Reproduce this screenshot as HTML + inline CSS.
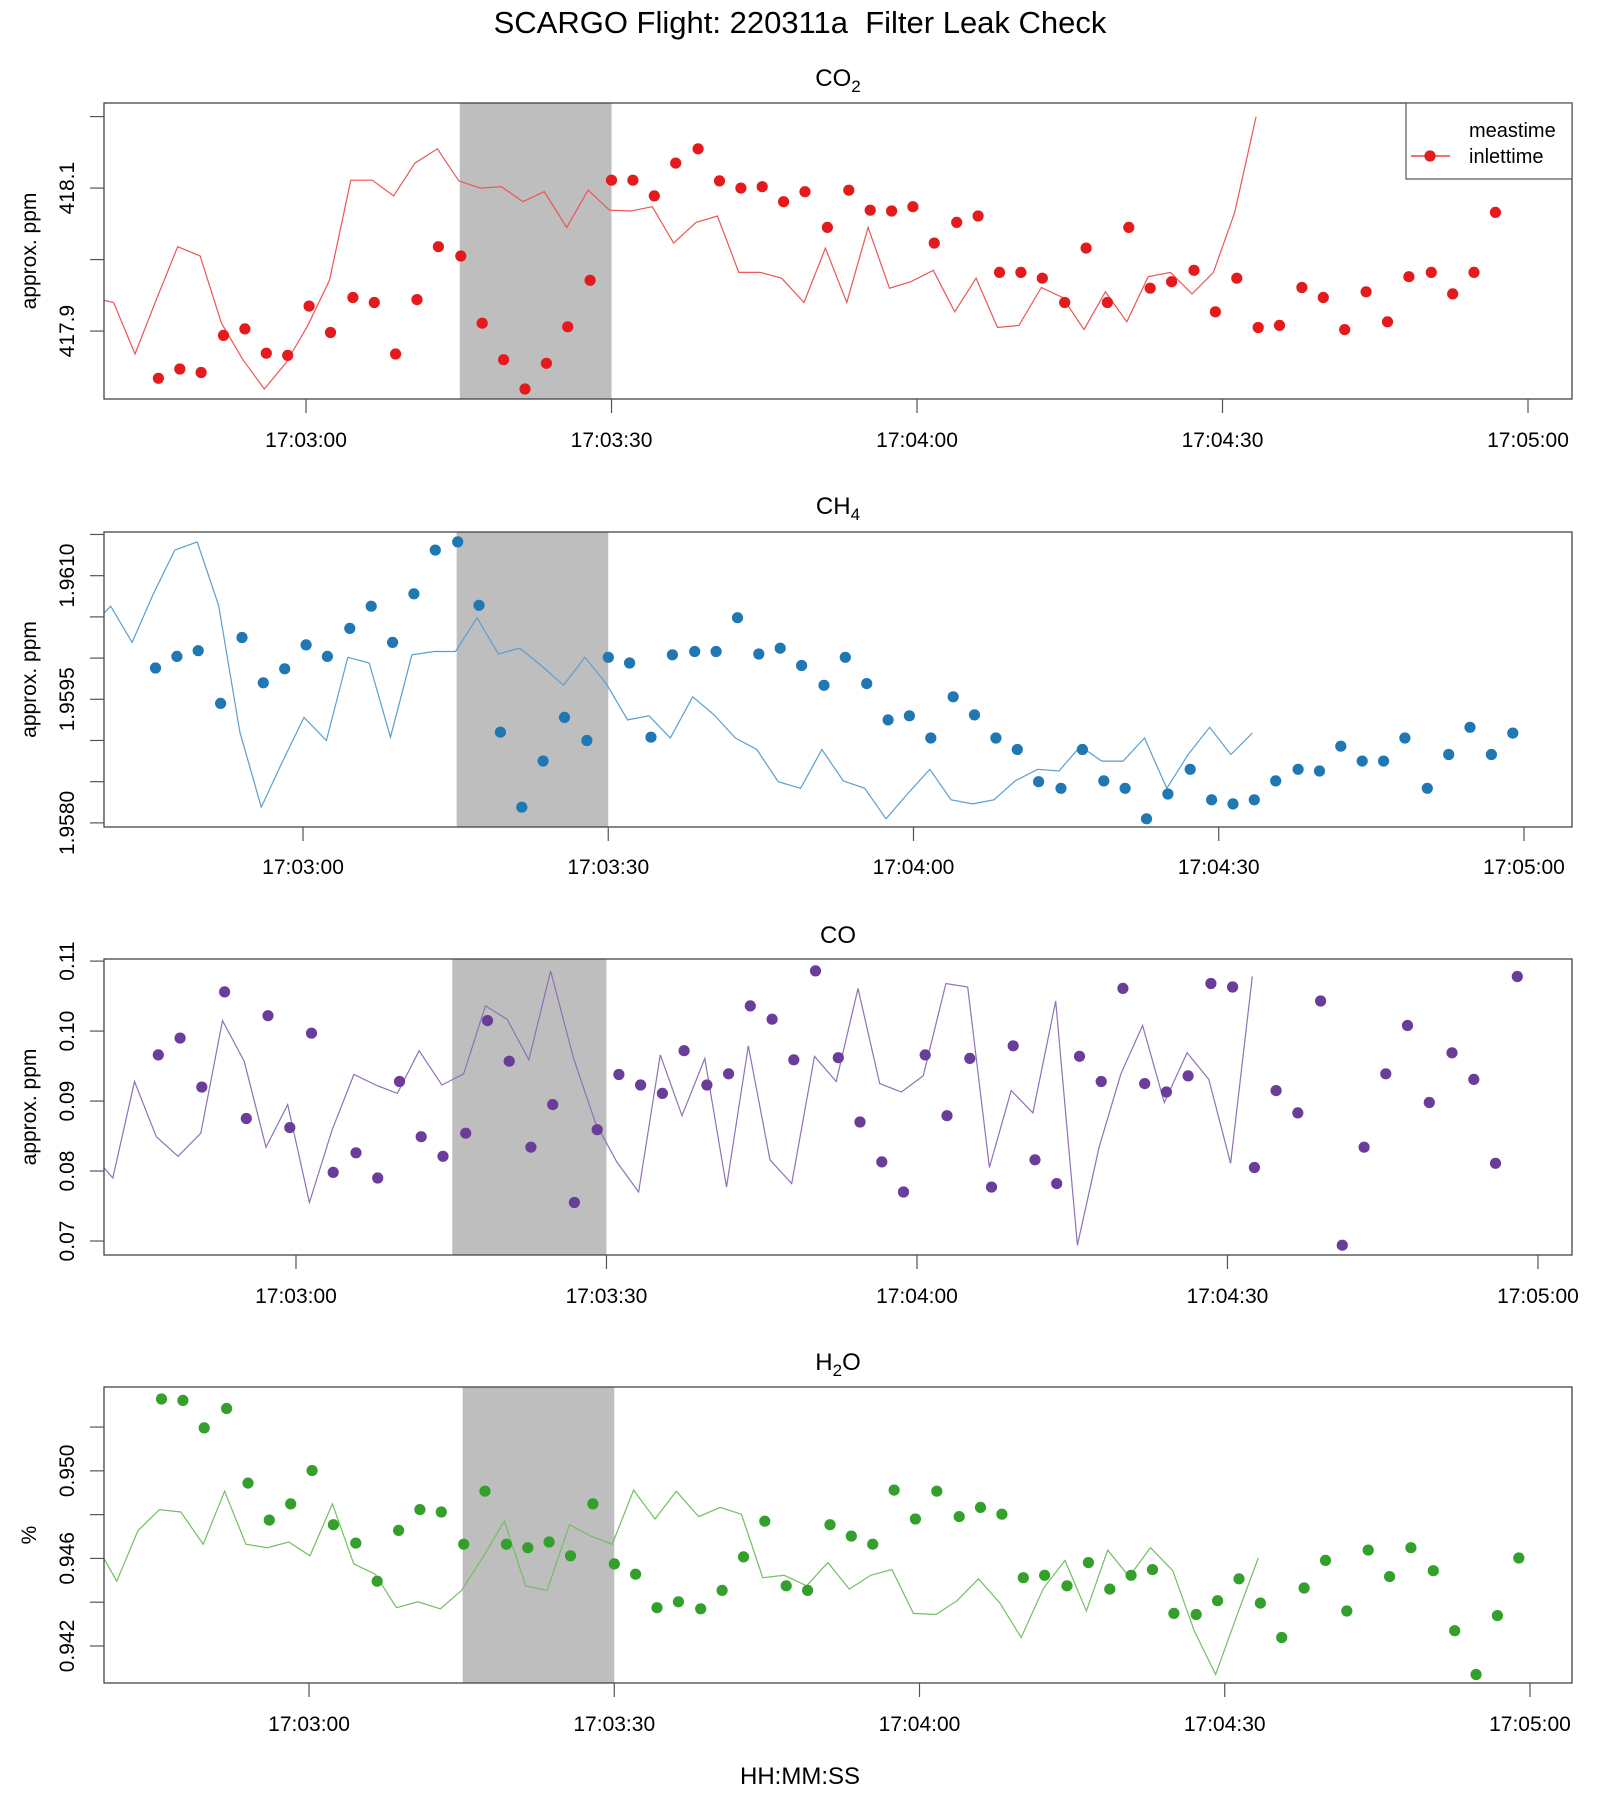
<!DOCTYPE html>
<html><head><meta charset="utf-8"><title>SCARGO Flight 220311a Filter Leak Check</title>
<style>html,body{margin:0;padding:0;background:#fff}svg{display:block;font-family:"Liberation Sans",Arial,sans-serif}</style>
</head><body>
<svg id="chart" width="1600" height="1800" viewBox="0 0 1600 1800" xmlns="http://www.w3.org/2000/svg">
<rect width="1600" height="1800" fill="#fff"/>
<text x="800" y="33" font-size="31" text-anchor="middle" xml:space="preserve">SCARGO Flight: 220311a  Filter Leak Check</text>
<text x="800" y="1784" font-size="24" text-anchor="middle">HH:MM:SS</text>
<g id="panels"></g>
</svg>
<script>
const sampleTimes = [-14.5,-12.4,-10.3,-8.1,-6.0,-3.9,-1.8,0.3,2.4,4.6,6.7,8.8,10.9,13.0,15.2,17.3,19.4,21.5,23.6,25.7,27.9,30.0,32.1,34.2,36.3,38.5,40.6,42.7,44.8,46.9,49.0,51.2,53.3,55.4,57.5,59.6,61.7,63.9,66.0,68.1,70.2,72.3,74.5,76.6,78.7,80.8,82.9,85.0,87.2,89.3,91.4,93.5,95.6,97.8,99.9,102.0,104.1,106.2,108.3,110.5,112.6,114.7,116.8,118.9];
const coTimes = [-13.3,-11.2,-9.1,-6.9,-4.8,-2.7,-0.6,1.5,3.6,5.8,7.9,10.0,12.1,14.2,16.4,18.5,20.6,22.7,24.8,26.9,29.1,31.2,33.3,35.4,37.5,39.7,41.8,43.9,46.0,48.1,50.2,52.4,54.5,56.6,58.7,60.8,62.9,65.1,67.2,69.3,71.4,73.5,75.7,77.8,79.9,82.0,84.1,86.2,88.4,90.5,92.6,94.7,96.8,99.0,101.1,103.2,105.3,107.4,109.5,111.7,113.8,115.9,118.0];
const inletLag = 25.6;
const shadeRange = [15.1, 30.0];
const xTickTimes = [0, 30, 60, 90, 120];
const xTickLabels = ["17:03:00","17:03:30","17:04:00","17:04:30","17:05:00"];

const co2Values = [417.834,417.847,417.842,417.894,417.903,417.869,417.866,417.935,417.898,417.947,417.940,417.868,417.944,418.018,418.005,417.911,417.860,417.819,417.855,417.906,417.971,418.111,418.111,418.089,418.135,418.155,418.110,418.100,418.102,418.081,418.095,418.045,418.097,418.069,418.068,418.074,418.023,418.052,418.061,417.982,417.982,417.974,417.940,418.016,417.940,418.045,417.960,417.969,417.985,417.927,417.974,417.905,417.908,417.961,417.947,417.902,417.955,417.913,417.976,417.982,417.952,417.982,418.066,418.200];
const co2DotCount = 63;
const co2YTicks = [417.9, 418.0, 418.1, 418.2];
const co2YLabels = ["417.9", "", "418.1", ""];

const ch4Values = [1.95988,1.96002,1.96009,1.95945,1.96025,1.95970,1.95987,1.96016,1.96002,1.96036,1.96063,1.96019,1.96078,1.96131,1.96141,1.96064,1.95910,1.95819,1.95875,1.95928,1.95900,1.96001,1.95994,1.95904,1.96004,1.96008,1.96008,1.96049,1.96005,1.96012,1.95991,1.95967,1.96001,1.95969,1.95925,1.95930,1.95903,1.95953,1.95931,1.95903,1.95889,1.95850,1.95842,1.95889,1.95851,1.95842,1.95805,1.95835,1.95865,1.95828,1.95823,1.95828,1.95851,1.95865,1.95863,1.95893,1.95875,1.95875,1.95903,1.95842,1.95883,1.95916,1.95883,1.95909];
const ch4YTicks = [1.9580,1.9585,1.9590,1.9595,1.9600,1.9605,1.9610,1.9615];
const ch4YLabels = ["1.9580","","","1.9595","","","1.9610",""];

const coValues = [0.0966,0.0990,0.0920,0.1056,0.0875,0.1022,0.0862,0.0997,0.0798,0.0826,0.0790,0.0928,0.0849,0.0821,0.0854,0.1015,0.0957,0.0834,0.0895,0.0755,0.0859,0.0938,0.0923,0.0911,0.0972,0.0923,0.0939,0.1036,0.1017,0.0959,0.1086,0.0962,0.0870,0.0813,0.0770,0.0966,0.0879,0.0961,0.0777,0.0979,0.0816,0.0782,0.0964,0.0928,0.1061,0.0925,0.0913,0.0936,0.1068,0.1063,0.0805,0.0915,0.0883,0.1043,0.0694,0.0834,0.0939,0.1008,0.0898,0.0969,0.0931,0.0811,0.1078];
const coYTicks = [0.07,0.08,0.09,0.10,0.11];
const coYLabels = ["0.07","0.08","0.09","0.10","0.11"];

const h2oValues = [0.95328,0.95322,0.95196,0.95285,0.94944,0.94775,0.94849,0.95001,0.94754,0.94670,0.94496,0.94728,0.94823,0.94812,0.94665,0.94907,0.94665,0.94649,0.94675,0.94612,0.94849,0.94575,0.94528,0.94375,0.94402,0.94370,0.94454,0.94607,0.94770,0.94475,0.94454,0.94754,0.94702,0.94665,0.94912,0.94780,0.94907,0.94791,0.94833,0.94802,0.94512,0.94523,0.94475,0.94581,0.94460,0.94523,0.94549,0.94349,0.94344,0.94407,0.94507,0.94396,0.94239,0.94465,0.94591,0.94360,0.94638,0.94517,0.94649,0.94544,0.94270,0.94070,0.94339,0.94602];
const h2oYTicks = [0.942,0.944,0.946,0.948,0.950,0.952];
const h2oYLabels = ["0.942","","0.946","","0.950",""];

const panels = [
 {key:"co2", title:["CO","2"], top:103, bottom:399, xd:[-19.84,124.32], yd:[417.805,418.219], times:sampleTimes, vals:co2Values, dots:co2DotCount, yt:co2YTicks, yl:co2YLabels, ylab:"approx. ppm", color:"#E41A1C", lcolor:"#EE5555", titleY:86, xlabY:447},
 {key:"ch4", title:["CH","4"], top:532, bottom:827, xd:[-19.56,124.72], yd:[1.95795,1.96153], times:sampleTimes, vals:ch4Values, dots:ch4Values.length, yt:ch4YTicks, yl:ch4YLabels, ylab:"approx. ppm", color:"#1F78B4", lcolor:"#5A9FD0", titleY:514, xlabY:874},
 {key:"co", title:["CO",""], top:959, bottom:1255, xd:[-18.55,123.29], yd:[0.0680,0.1103], times:coTimes, vals:coValues, dots:coValues.length, yt:coYTicks, yl:coYLabels, ylab:"approx. ppm", color:"#6A3D9A", lcolor:"#9070B8", titleY:943, xlabY:1303},
 {key:"h2o", title:["H","2","O"], top:1387, bottom:1683, xd:[-20.15,124.13], yd:[0.94031,0.95383], times:sampleTimes, vals:h2oValues, dots:h2oValues.length, yt:h2oYTicks, yl:h2oYLabels, ylab:"%", color:"#33A02C", lcolor:"#70C060", titleY:1370, xlabY:1731}
];

const NS = "http://www.w3.org/2000/svg";
const L = 104, R = 1572;
function mk(tag, attrs, parent){const e=document.createElementNS(NS,tag);for(const k in attrs)e.setAttribute(k,attrs[k]);parent.appendChild(e);return e;}
const root = document.getElementById("panels");

panels.forEach(p => {
  const g = mk("g", {}, root);
  
  
  const xs = t => L + (t - p.xd[0]) / (p.xd[1] - p.xd[0]) * (R - L);
  const ys = v => p.bottom - (v - p.yd[0]) / (p.yd[1] - p.yd[0]) * (p.bottom - p.top);

  const clip = mk("clipPath", {id: "clip-" + p.key}, g);
  mk("rect", {x: L, y: p.top, width: R - L, height: p.bottom - p.top}, clip);

  const sh = mk("rect", {x: xs(shadeRange[0]), y: p.top, width: xs(shadeRange[1]) - xs(shadeRange[0]), height: p.bottom - p.top, fill: "#BEBEBE"}, g);
  
  

  let d = "";
  p.vals.forEach((v, i) => { d += (i ? "L" : "M") + xs(p.times[i] - inletLag).toFixed(1) + "," + ys(v).toFixed(1); });
  const ln = mk("path", {d: d, fill: "none", stroke: p.lcolor, "stroke-width": 1.2, "clip-path": "url(#clip-" + p.key + ")"}, g);
  
  

  for (let i = 0; i < p.dots; i++) {
    const c = mk("circle", {cx: xs(p.times[i]).toFixed(1), cy: ys(p.vals[i]).toFixed(1), r: 5.6, fill: p.color, "clip-path": "url(#clip-" + p.key + ")"}, g);
    
    
  }

  const bx = mk("rect", {x: L, y: p.top, width: R - L, height: p.bottom - p.top, fill: "none", stroke: "#444", "stroke-width": 1.3}, g);
  
  

  xTickTimes.forEach((t, i) => {
    const x = xs(t);
    const tk = mk("line", {x1: x, x2: x, y1: p.bottom, y2: p.bottom + 14, stroke: "#555", "stroke-width": 1.2}, g);
    
    
    const tx = mk("text", {x: x, y: p.xlabY, "font-size": 21, "text-anchor": "middle"}, g);
    tx.textContent = xTickLabels[i];
    
    
  });

  p.yt.forEach((v, i) => {
    const y = ys(v);
    const tk = mk("line", {x1: L - 14, x2: L, y1: y, y2: y, stroke: "#555", "stroke-width": 1.2}, g);
    
    
    if (p.yl[i]) {
      const tx = mk("text", {x: 0, y: 0, "font-size": 21, "text-anchor": "middle", transform: "translate(74," + y.toFixed(1) + ") rotate(-90)"}, g);
      tx.textContent = p.yl[i];
      
      
    }
  });

  const yl = mk("text", {x: 0, y: 0, "font-size": 21, "text-anchor": "middle", transform: "translate(36," + ((p.top + p.bottom) / 2) + ") rotate(-90)"}, g);
  yl.textContent = p.ylab;
  
  

  const tt = mk("text", {x: 838, y: p.titleY, "font-size": 24, "text-anchor": "middle"}, g);
  
  
  const s1 = mk("tspan", {}, tt); s1.textContent = p.title[0];
  if (p.title[1]) { const s2 = mk("tspan", {"font-size": 17, dy: 6}, tt); s2.textContent = p.title[1]; }
  if (p.title[2]) { const s3 = mk("tspan", {dy: -6}, tt); s3.textContent = p.title[2]; }
});

const lg = mk("g", {}, root);


mk("rect", {x: 1406, y: 103, width: 166, height: 76, fill: "#fff", stroke: "#555", "stroke-width": 1.2}, lg);
const t1 = mk("text", {x: 1469, y: 137, "font-size": 20}, lg); t1.textContent = "meastime";


const t2 = mk("text", {x: 1469, y: 163, "font-size": 20}, lg); t2.textContent = "inlettime";


mk("line", {x1: 1411, x2: 1450, y1: 156, y2: 156, stroke: "#E41A1C", "stroke-width": 1.2}, lg);
mk("circle", {cx: 1430, cy: 156, r: 5.6, fill: "#E41A1C"}, lg);
</script>
</body></html>
